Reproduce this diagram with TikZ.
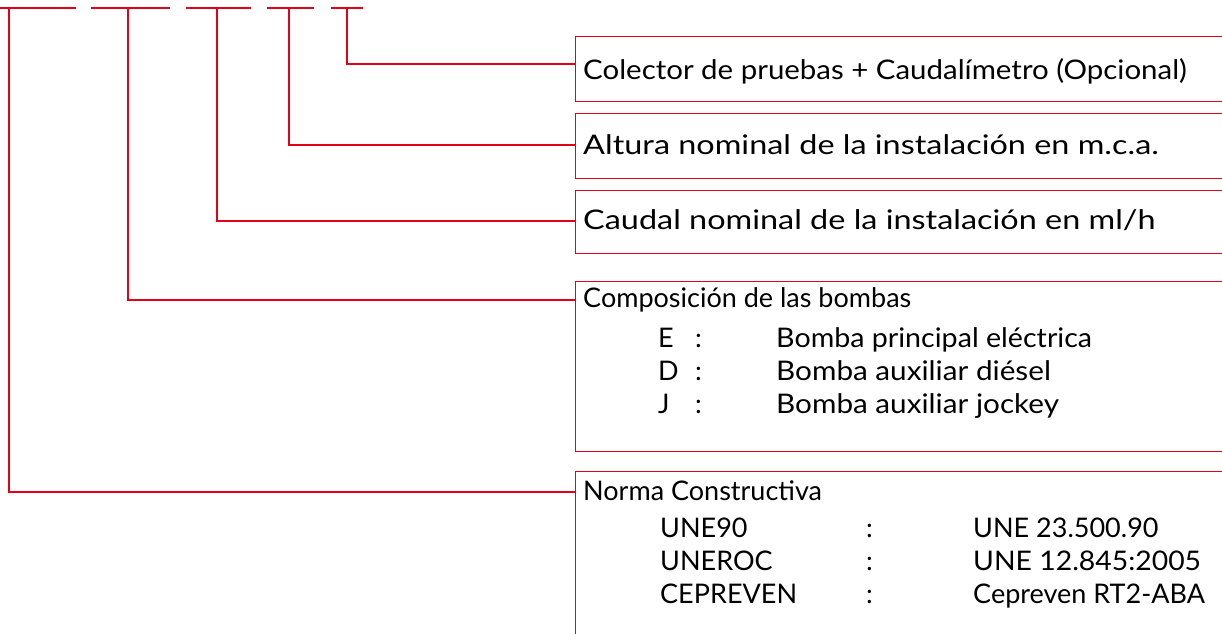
\documentclass[tikz,border=0pt]{standalone}
\usepackage{fontspec}
\setmainfont{Lato}
\definecolor{lred}{RGB}{228,0,27}
\newcommand{\hs}[2]{\scalebox{#1}[1]{#2}}
\tikzset{
  rline/.style={draw=lred, line width=1.1pt},
  openbox/.style={draw=lred, line width=1.1pt, anchor=north west, inner sep=0pt, minimum width=700pt},
  txt/.style={anchor=base west, inner sep=0pt, font=\fontsize{27}{31}\selectfont, text=black},
}
\begin{document}
\begin{tikzpicture}[x=1pt,y=-1pt]
\useasboundingbox (0,0) rectangle (1222,633);
\clip (0,0) rectangle (1222,633);
% top segments
\coordinate (s1a) at (-5,8); \coordinate (s1b) at (76,8);
\coordinate (s2a) at (91,8); \coordinate (s2b) at (170,8);
\coordinate (s3a) at (186,8); \coordinate (s3b) at (251,8);
\coordinate (s4a) at (267,8); \coordinate (s4b) at (314,8);
\coordinate (s5a) at (331,8); \coordinate (s5b) at (363,8);
\draw[rline] (s1a) -- (s1b);
\draw[rline] (s2a) -- (s2b);
\draw[rline] (s3a) -- (s3b);
\draw[rline] (s4a) -- (s4b);
\draw[rline] (s5a) -- (s5b);
\coordinate (t1) at (9,8);
\coordinate (t2) at (128,8);
\coordinate (t3) at (217,8);
\coordinate (t4) at (289,8);
\coordinate (t5) at (347,8);
% boxes
\node[openbox, minimum height=65pt] (b1) at (575,36) {};
\node[openbox, minimum height=65pt] (b2) at (575,113) {};
\node[openbox, minimum height=63pt] (b3) at (575,190) {};
\node[openbox, minimum height=170pt] (b4) at (575,281) {};
\node[openbox, minimum height=200pt] (b5) at (575,471) {};
% connectors
\draw[rline] (t5) |- ([yshift=-28pt]b1.north west);
\draw[rline] (t4) |- ([yshift=-32pt]b2.north west);
\draw[rline] (t3) |- ([yshift=-31pt]b3.north west);
\draw[rline] (t2) |- ([yshift=-19pt]b4.north west);
\draw[rline] (t1) |- ([yshift=-21pt]b5.north west);
% texts
\node[txt] (x1) at (583,79) {\hs{1.09}{Colector de pruebas + Caudalímetro (Opcional)}};
\node[txt] (x2) at (583,154) {\hs{1.2}{Altura nominal de la instalación en m.c.a.}};
\node[txt] (x3) at (583,229) {\hs{1.2}{Caudal nominal de la instalación en ml/h}};
\node[txt] (x4) at (583,307) {Composición de las bombas};
\node[txt] (e1) at (658,347) {E};
\node[txt] (e2) at (695,347) {:};
\node[txt] (e3) at (776,347) {\hs{1.06}{Bomba principal eléctrica}};
\node[txt] (d1) at (658,380) {D};
\node[txt] (d2) at (695,380) {:};
\node[txt] (d3) at (776,380) {\hs{1.1}{Bomba auxiliar diésel}};
\node[txt] (j1) at (658,413) {J};
\node[txt] (j2) at (695,413) {:};
\node[txt] (j3) at (776,413) {\hs{1.1}{Bomba auxiliar jockey}};
\node[txt] (x5) at (583,500) {Norma Constructiva};
\node[txt] (n1) at (660,537) {UNE90};
\node[txt] (n2) at (866,537) {:};
\node[txt] (n3) at (973,537) {UNE 23.500.90};
\node[txt] (r1) at (660,570) {UNEROC};
\node[txt] (r2) at (866,570) {:};
\node[txt] (r3) at (973,570) {\hs{1.05}{UNE 12.845:2005}};
\node[txt] (c1) at (660,603) {CEPREVEN};
\node[txt] (c2) at (866,603) {:};
\node[txt] (c3) at (973,603) {Cepreven RT2-ABA};
\end{tikzpicture}
\end{document}
